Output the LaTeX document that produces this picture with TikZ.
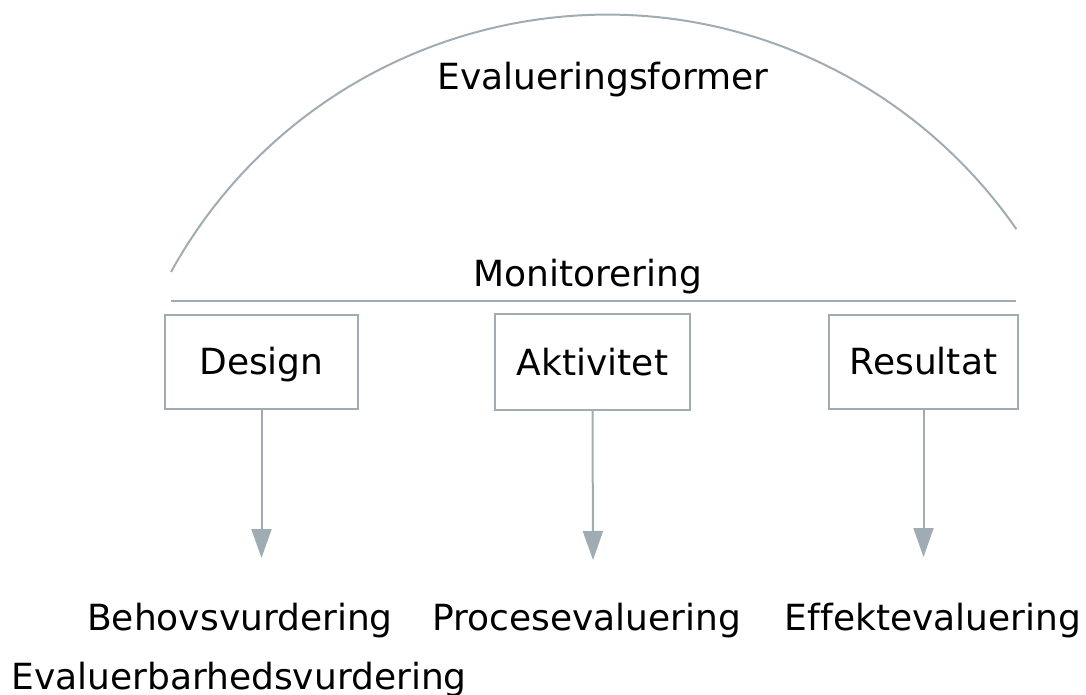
\documentclass[tikz,border=0pt]{standalone}
\usepackage{fontspec}
\setmainfont{DejaVu Sans}[Ligatures=NoCommon]
\usetikzlibrary{arrows.meta}
\definecolor{linegray}{RGB}{160,172,180}
\begin{document}
\begin{tikzpicture}[x=0.5pt,y=-0.5pt,
  every node/.style={font=\fontsize{18}{22}\selectfont,inner sep=0pt},
  box/.style={draw=linegray,line width=1pt,minimum height=47pt,text height=13.1pt,text depth=0pt},
  link/.style={draw=linegray,line width=1pt,-{Triangle[width=10pt,length=14.5pt]},fill=linegray}]
\useasboundingbox (0,0) rectangle (1086,695);
\draw[linegray,line width=1pt] (171,272) arc[start angle=-151.1,end angle=-34.7,radius=498];
\node[anchor=base] (former) at (603,90) {Evalueringsformer};
\node[anchor=base] (monitor) at (588,286) {Monitorering};
\draw[linegray,line width=1pt] (171,301)--(1016,301);
\node[box,minimum width=96.5pt] (design) at (261.5,361.5) {Design};
\node[box,minimum width=97.5pt,minimum height=48pt] (aktiv) at (592.5,362) {Aktivitet};
\node[box,minimum width=94.5pt] (result) at (923.5,361.5) {Resultat};
\coordinate (tipa) at (261.5,558);
\coordinate (tipb) at (593,560);
\coordinate (tipc) at (923.5,557);
\draw[link] (design) -- (tipa);
\draw[link] (aktiv.south) -- (tipb);
\draw[link] (result) -- (tipc);
\node[anchor=base] (behov) at (240,630) {Behovsvurdering};
\node[anchor=base] (proces) at (587,630) {Procesevaluering};
\node[anchor=base] (effekt) at (933,630) {Effektevaluering};
\node[anchor=base] (evalbar) at (239,689) {Evaluerbarhedsvurdering};
\end{tikzpicture}
\end{document}
